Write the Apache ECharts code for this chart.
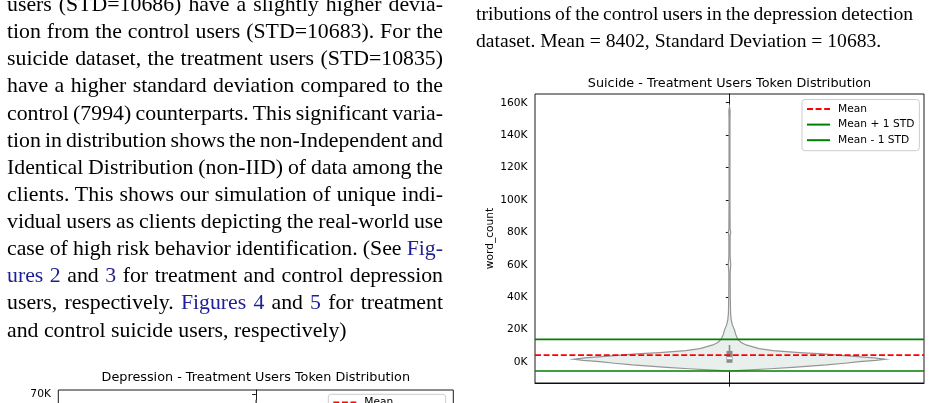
<!DOCTYPE html>
<html><head><meta charset="utf-8">
<script src="https://cdn.jsdelivr.net/npm/echarts@6/dist/echarts.min.js"></script>
<style>
html,body{margin:0;padding:0;background:#fff;width:932px;height:403px;overflow:hidden;}
#chart{position:absolute;left:0;top:0;width:932px;height:720px;}
.ln{position:absolute;font-family:'Liberation Serif','Times New Roman',serif;font-size:21.8px;line-height:27px;height:27px;white-space:nowrap;color:#000;}
.cap{font-size:19.6px;}
.j{text-align:justify;text-align-last:justify;word-spacing:-4px;}
.lk{color:#1e1e96;}
</style></head><body>
<div id="chart"></div>
<div id="text"></div>
<script>
// ---------------- DATA ----------------
const leftTextLines = [
  "users (STD=10686) have a slightly higher devia-",
  "tion from the control users (STD=10683). For the",
  "suicide dataset, the treatment users (STD=10835)",
  "have a higher standard deviation compared to the",
  "control (7994) counterparts. This significant varia-",
  "tion in distribution shows the non-Independent and",
  "Identical Distribution (non-IID) of data among the",
  "clients. This shows our simulation of unique indi-",
  "vidual users as clients depicting the real-world use",
  "case of high risk behavior identification. (See [Fig-]",
  "[ures 2] and [3] for treatment and control depression",
  "users, respectively. [Figures 4] and [5] for treatment",
  "and control suicide users, respectively)"
];
const rightTextLines = [
  "tributions of the control users in the depression detection",
  "dataset. Mean = 8402, Standard Deviation = 10683."
];

const legendNames = ["Mean", "Mean + 1 STD", "Mean - 1 STD"];

// Suicide - Treatment (right chart)
const suicideTitle = "Suicide - Treatment Users Token Distribution";
const suicideTicks = [0, 20000, 40000, 60000, 80000, 100000, 120000, 140000, 160000];
const suicideRange = [-13000, 165400];
const suicideViolinValues = [-5600, -5300, -5000, -4200, -3300, -1850, -800, 200, 1000, 1650, 2500, 3300, 4200, 4950, 5750, 7000, 8200, 10500, 12000, 14000, 17000, 19800, 23000, 26000, 30000, 40000, 55000, 60000, 65000, 78000, 80000, 82000, 100000, 120000, 140000, 150000, 155000, 157500];
const suicideViolinWidths = [0, 0.05, 0.107, 0.26, 0.405, 0.623, 0.74, 0.835, 0.94, 1.0, 0.93, 0.82, 0.70, 0.60, 0.45, 0.28, 0.19, 0.107, 0.075, 0.053, 0.04, 0.032, 0.018, 0.011, 0.007, 0.005, 0.004, 0.008, 0.004, 0.004, 0.008, 0.004, 0.003, 0.003, 0.003, 0.003, 0.004, 0];
const suicideBoxStats = [0, -500, 2300, 6800, 10500]; // low whisker, q1, median, q3, high whisker
const suicideRefLines = [4200, 13950, -5550];          // mean, mean+std, mean-std

// Depression - Treatment (bottom-left chart, mostly cropped)
const depressionTitle = "Depression - Treatment Users Token Distribution";
const depressionTicks = [0, 10000, 20000, 30000, 40000, 50000, 60000, 70000];
const depressionRange = [-10000, 71200];
const depressionViolinValues = [-6000, -5500, -4000, -2000, 0, 1500, 3000, 5000, 7000, 9000, 12000, 15000, 20000, 25000, 30000, 40000, 50000, 60000, 66000, 68500];
const depressionViolinWidths = [0, 0.1, 0.35, 0.65, 0.85, 1.0, 0.9, 0.65, 0.4, 0.25, 0.12, 0.07, 0.035, 0.015, 0.008, 0.005, 0.004, 0.004, 0.004, 0];
const depressionBoxStats = [0, 500, 3000, 9000, 19000];
const depressionRefLines = [8900, 19586, -1786];

// ---------------- TEXT ----------------
function addLines(lines, left, width, firstCenter, spacing, extraClass) {
  const host = document.getElementById('text');
  lines.forEach((s, i) => {
    const d = document.createElement('div');
    d.className = 'ln' + (extraClass ? ' ' + extraClass : '') + (i < lines.length - 1 ? ' j' : '');
    d.style.left = left + 'px';
    d.style.width = width + 'px';
    d.style.top = (firstCenter + spacing * i - 13.5) + 'px';
    d.innerHTML = s.replace(/\[([^\]]+)\]/g, '<span class="lk">$1</span>');
    host.appendChild(d);
  });
}
addLines(leftTextLines, 7, 436, 4.6, 27.12, '');
addLines(rightTextLines, 476, 437, 13.3, 26.7, 'cap');

// ---------------- CHART ----------------
const FONT = 'DejaVu Sans';
const chart = echarts.init(document.getElementById('chart'), null, {renderer: 'canvas'});

function violinRenderer(values, widths, box) {
  return function (params, api) {
    const half = api.size([0.4, 0])[0];
    const cx = api.coord([0, 0])[0];
    const right = [], left = [];
    for (let i = 0; i < values.length; i++) {
      const y = api.coord([0, values[i]])[1];
      right.push([cx + widths[i] * half, y]);
      left.push([cx - widths[i] * half, y]);
    }
    const pts = right.concat(left.reverse());
    const yw0 = api.coord([0, box[0]])[1], yq1 = api.coord([0, box[1]])[1];
    const ymed = api.coord([0, box[2]])[1], yq3 = api.coord([0, box[3]])[1];
    const yw1 = api.coord([0, box[4]])[1];
    return {
      type: 'group',
      children: [
        {type: 'polygon', shape: {points: pts}, style: {fill: '#e8efec', stroke: '#959595', lineWidth: 1.2}},
        {type: 'line', shape: {x1: cx, y1: yw0, x2: cx, y2: yw1}, style: {stroke: '#8a8a8a', lineWidth: 1.6}},
        {type: 'rect', shape: {x: cx - 3, y: yq3, width: 6, height: yq1 - yq3}, style: {fill: '#8a8a8a'}},
        {type: 'rect', shape: {x: cx - 2.5, y: ymed - 1, width: 5, height: 2}, style: {fill: '#ffffff'}}
      ]
    };
  };
}

function refSeries(names, vals, axisIdx) {
  const colors = ['#ff0000', '#008000', '#008000'];
  return names.map((n, i) => ({
    type: 'line', name: n, xAxisIndex: axisIdx, yAxisIndex: axisIdx,
    data: [[-0.5, vals[i]], [0.5, vals[i]]],
    symbol: 'none', z: 4, silent: true,
    lineStyle: {color: colors[i], width: 1.6, type: i === 0 ? [6, 2.6] : 'solid'},
    itemStyle: {color: colors[i]}
  }));
}

function yAxisOf(gridIdx, range, ticks) {
  return {
    type: 'value', gridIndex: gridIdx, min: range[0], max: range[1],
    name: 'word_count', nameLocation: 'middle', nameGap: 39,
    nameTextStyle: {fontFamily: FONT, fontSize: 10.67, color: '#000'},
    axisLine: {show: true, lineStyle: {color: '#000', width: 0.9}},
    axisTick: {show: true, inside: false, length: 3.7, lineStyle: {color: '#000', width: 0.9}, customValues: ticks},
    axisLabel: {show: true, margin: 7.4, fontFamily: FONT, fontSize: 10.67, color: '#000',
      customValues: ticks, formatter: v => Math.round(v / 1000) + 'K'},
    splitLine: {show: false}
  };
}
function xAxisOf(gridIdx) {
  return {
    type: 'value', gridIndex: gridIdx, min: -0.5, max: 0.5,
    axisLine: {show: true, onZero: false, lineStyle: {color: '#000', width: 0.9}},
    axisTick: {show: true, inside: false, length: 3.7, lineStyle: {color: '#000', width: 0.9}, customValues: [0]},
    axisLabel: {show: false, customValues: [0]},
    splitLine: {show: false}
  };
}
function legendOf(left, top, padTop) {
  return {
    data: legendNames, orient: 'vertical', left: left, top: top, height: 60,
    itemWidth: 23, itemHeight: 10, itemGap: 3.6,
    padding: [padTop, 5, 4.5, 4],
    backgroundColor: 'rgba(255,255,255,0.8)', borderColor: '#cccccc', borderWidth: 1, borderRadius: 3,
    selectedMode: false,
    itemStyle: {opacity: 0},
    textStyle: {fontFamily: FONT, fontSize: 10.67, color: '#000', lineHeight: 12, padding: [0, 0, 0, 3]}
  };
}

const option = {
  animation: false,
  backgroundColor: 'transparent',
  title: [
    {text: suicideTitle, left: 729.5, top: 75.8, textAlign: 'center', padding: 0,
      textStyle: {fontFamily: FONT, fontSize: 12.8, fontWeight: 'normal', color: '#000', lineHeight: 15}},
    {text: depressionTitle, left: 255.8, top: 369.8, textAlign: 'center', padding: 0,
      textStyle: {fontFamily: FONT, fontSize: 12.8, fontWeight: 'normal', color: '#000', lineHeight: 15}}
  ],
  grid: [
    {left: 535, top: 94, width: 389, height: 289, show: true, borderColor: '#000', borderWidth: 0.9, containLabel: false, outerBoundsMode: 'none'},
    {left: 58.3, top: 390, width: 395, height: 291, show: true, borderColor: '#000', borderWidth: 0.9, containLabel: false, outerBoundsMode: 'none'}
  ],
  xAxis: [xAxisOf(0), xAxisOf(1)],
  yAxis: [yAxisOf(0, suicideRange, suicideTicks), yAxisOf(1, depressionRange, depressionTicks)],
  legend: [legendOf(802, 99.5, 3.5), legendOf(328.3, 394.3, 2.3)],
  series: [
    {type: 'custom', xAxisIndex: 0, yAxisIndex: 0, data: [[0, 0]], clip: true, z: 2, silent: true,
      renderItem: violinRenderer(suicideViolinValues, suicideViolinWidths, suicideBoxStats)},
    ...refSeries(legendNames, suicideRefLines, 0),
    {type: 'custom', xAxisIndex: 1, yAxisIndex: 1, data: [[0, 0]], clip: true, z: 2, silent: true,
      renderItem: violinRenderer(depressionViolinValues, depressionViolinWidths, depressionBoxStats)},
    ...refSeries(legendNames, depressionRefLines, 1)
  ]
};
chart.setOption(option);
</script>
</body></html>
